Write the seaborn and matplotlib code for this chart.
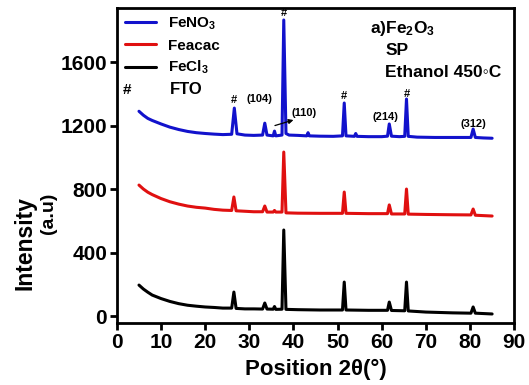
import numpy as np
import pandas as pd
import matplotlib
matplotlib.use('Agg')
import matplotlib.pyplot as plt
import seaborn as sns

# XRD patterns (2theta, intensity)
x_feno3 = [5, 6, 7, 8, 10, 12, 14, 16, 18, 20, 22, 24, 26.0, 26.6, 27.2, 29, 31, 33.0, 33.5, 34.0,
           35.4, 35.7, 36.0, 37.4, 37.8, 38.3, 39, 41, 43, 43.3, 43.6, 46, 49, 51.1, 51.5, 51.9,
           53.8, 54.1, 54.4, 57, 60, 61.3, 61.7, 62.2, 64, 65.2, 65.6, 66.0, 68, 72, 76, 80.2, 80.7, 81.2, 83, 85]
y_feno3 = [1290, 1265, 1245, 1232, 1210, 1190, 1175, 1163, 1155, 1150, 1146, 1143, 1145, 1310, 1148, 1140, 1138, 1140, 1215, 1140,
           1135, 1165, 1135, 1140, 1865, 1150, 1140, 1138, 1135, 1155, 1135, 1133, 1132, 1135, 1342, 1135,
           1132, 1150, 1132, 1130, 1130, 1133, 1210, 1133, 1130, 1132, 1367, 1132, 1127, 1125, 1125, 1125, 1178, 1125, 1122, 1120]

x_feacac = [5, 6, 7, 8, 10, 12, 14, 16, 18, 20, 22, 24, 26.0, 26.5, 27.0, 29, 31, 33.0, 33.5, 34.0,
            35.4, 35.7, 36.0, 37.4, 37.8, 38.3, 41, 46, 51.1, 51.5, 51.9, 57, 61.3, 61.7, 62.2,
            65.2, 65.6, 66.0, 70, 76, 80.2, 80.7, 81.2, 85]
y_feacac = [825, 800, 780, 765, 740, 720, 705, 693, 685, 680, 672, 667, 665, 750, 663, 660, 657, 657, 693, 655,
            655, 665, 655, 655, 1033, 650, 648, 647, 647, 781, 647, 645, 645, 700, 643,
            643, 800, 642, 640, 638, 637, 674, 635, 630]

x_fecl3 = [5, 6, 7, 8, 10, 12, 14, 16, 18, 20, 22, 24, 26.0, 26.5, 27.0, 29, 31, 33.0, 33.5, 34.0,
           35.4, 35.7, 36.0, 37.4, 37.8, 38.3, 41, 46, 51.1, 51.5, 51.9, 57, 61.3, 61.7, 62.2,
           65.2, 65.6, 66.0, 70, 76, 80.2, 80.7, 81.2, 85]
y_fecl3 = [195, 170, 150, 132, 110, 92, 78, 68, 62, 57, 54, 50, 50, 151, 48, 45, 45, 44, 82, 44,
           43, 60, 42, 43, 542, 42, 40, 38, 38, 214, 38, 36, 36, 88, 35,
           33, 214, 32, 25, 20, 18, 57, 18, 13]

series = ['FeNO$_3$', 'Feacac', 'FeCl$_3$']
colors = ['#1212cc', '#e01010', 'black']

sns.set_style('ticks')
plt.rcParams['font.family'] = ['Liberation Sans', 'DejaVu Sans']
plt.rcParams['font.weight'] = 'bold'
plt.rcParams['mathtext.fontset'] = 'custom'
plt.rcParams['mathtext.rm'] = 'Liberation Sans:bold'
plt.rcParams['mathtext.it'] = 'Liberation Sans:bold'
plt.rcParams['mathtext.bf'] = 'Liberation Sans:bold'
for k in ['text.color', 'axes.labelcolor', 'xtick.color', 'ytick.color', 'axes.edgecolor']:
    plt.rcParams[k] = 'black'

fig = plt.figure(figsize=(5.29, 3.85), dpi=100)
ax = fig.add_axes([0.221, 0.161, 0.751, 0.818])

for name, xs, ys, c in zip(series, [x_feno3, x_feacac, x_fecl3], [y_feno3, y_feacac, y_fecl3], colors):
    df = pd.DataFrame({'pos': xs, 'I': ys})
    sns.lineplot(data=df, x='pos', y='I', ax=ax, color=c, lw=2.2, label=name,
                 sort=False, estimator=None)

ax.set_xlim(0, 90)
ax.set_ylim(-44, 1940)
ax.set_xticks(range(0, 91, 10))
ax.set_yticks([0, 400, 800, 1200, 1600])
ax.tick_params(labelsize=15, width=2, length=5, direction='out', pad=2)
for s in ax.spines.values():
    s.set_linewidth(2)
    s.set_visible(True)

ax.set_xlabel('Position 2\u03b8(\u00b0)', fontsize=16, fontweight='bold', labelpad=5)
ax.set_ylabel('')
fig.text(0.047, 0.369, 'Intensity', rotation=90, fontsize=16.5, fontweight='bold', va='center', ha='center')
fig.text(0.092, 0.447, '(a.u)', rotation=90, fontsize=14, fontweight='bold', va='center', ha='center')

leg = ax.legend(loc='upper left', frameon=False, fontsize=11, handlelength=2.0,
                borderaxespad=0.0, labelspacing=0.42, handletextpad=0.8,
                bbox_to_anchor=(0.005, 0.995))
for t in leg.get_texts():
    t.set_fontweight('bold')

ax.text(2.3, 1425, '#', fontsize=11, ha='center', va='center')
ax.text(15.6, 1425, 'FTO', fontsize=12, ha='center', va='center')
ax.text(57.4, 1810, 'a)Fe$_2$O$_3$', fontsize=12.5, ha='left', va='center')
ax.text(60.8, 1670, 'SP', fontsize=12.5, ha='left', va='center')
ax.text(60.8, 1535, 'Ethanol 450\u25e6C', fontsize=12.5, ha='left', va='center')

for px, py, lab in [(26.6, 1362, '#'), (37.8, 1912, '#'), (51.5, 1385, '#'), (65.6, 1398, '#'),
                    (32.4, 1365, '(104)'), (42.3, 1282, '(110)'), (60.8, 1255, '(214)'), (80.7, 1212, '(312)')]:
    ax.text(px, py, lab, fontsize=8, ha='center', va='center')
ax.annotate('', xy=(40.6, 1240), xytext=(35.2, 1195),
            arrowprops=dict(arrowstyle='-|>', color='black', lw=0.9, mutation_scale=7))

fig.savefig('out.png', dpi=100)
